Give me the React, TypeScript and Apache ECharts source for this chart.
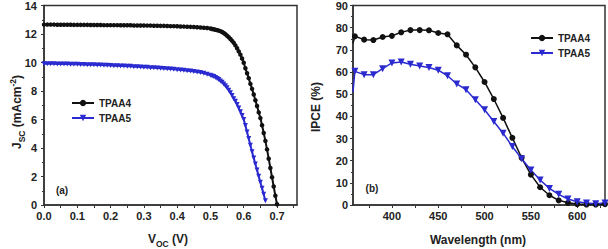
import React, { useEffect, useRef } from "react";
import * as echarts from "echarts";

// ---------- Data: J–V curves (panel a) ----------
const voltage = [
  0, 0.01, 0.02, 0.03, 0.04, 0.05, 0.06, 0.07, 0.08, 0.09,
  0.10, 0.11, 0.12, 0.13, 0.14, 0.15, 0.16, 0.17, 0.18, 0.19,
  0.20, 0.21, 0.22, 0.23, 0.24, 0.25, 0.26, 0.27, 0.28, 0.29,
  0.30, 0.31, 0.32, 0.33, 0.34, 0.35, 0.36, 0.37, 0.38, 0.39,
  0.40, 0.41, 0.42, 0.43, 0.44, 0.45, 0.46, 0.47, 0.48, 0.49,
  0.50,
  0.505, 0.51, 0.515, 0.52, 0.525, 0.53, 0.535, 0.54, 0.545, 0.55,
  0.555, 0.56, 0.565, 0.57, 0.575, 0.58, 0.585, 0.59, 0.595, 0.60,
  0.605, 0.61, 0.615, 0.62, 0.625, 0.63, 0.635, 0.64, 0.645, 0.65,
  0.655, 0.66, 0.665, 0.67, 0.675, 0.68, 0.685, 0.69, 0.695, 0.70,
];

const jscTPAA4 = [
  12.66, 12.66, 12.66, 12.66, 12.65, 12.65, 12.65, 12.65, 12.65, 12.64,
  12.64, 12.64, 12.64, 12.64, 12.63, 12.63, 12.63, 12.63, 12.62, 12.62,
  12.62, 12.62, 12.62, 12.61, 12.61, 12.61, 12.61, 12.60, 12.60, 12.60,
  12.60, 12.59, 12.59, 12.58, 12.58, 12.57, 12.57, 12.56, 12.55, 12.55,
  12.54, 12.53, 12.52, 12.51, 12.50, 12.49, 12.47, 12.46, 12.44, 12.42,
  12.39,
  12.35, 12.33, 12.30, 12.27, 12.24, 12.20, 12.14, 12.07, 11.98, 11.88,
  11.77, 11.65, 11.52, 11.38, 11.20, 11.00, 10.78, 10.55, 10.28, 9.98,
  9.60, 9.25, 8.90, 8.50, 8.15, 7.75, 7.35, 6.95, 6.50, 6.10,
  5.60, 5.05, 4.50, 3.90, 3.25, 2.60, 1.95, 1.30, 0.65, 0.05,
];

const jscTPAA5 = [
  9.92, 9.92, 9.91, 9.91, 9.90, 9.90, 9.89, 9.89, 9.88, 9.88,
  9.87, 9.86, 9.86, 9.85, 9.84, 9.84, 9.83, 9.82, 9.81, 9.80,
  9.79, 9.78, 9.77, 9.76, 9.75, 9.74, 9.73, 9.71, 9.70, 9.68,
  9.67, 9.66, 9.64, 9.63, 9.61, 9.60, 9.58, 9.56, 9.54, 9.52,
  9.50, 9.47, 9.45, 9.42, 9.40, 9.37, 9.33, 9.29, 9.24, 9.18,
  9.11,
  9.06, 9.01, 8.95, 8.88, 8.80, 8.71, 8.61, 8.49, 8.36, 8.22,
  8.06, 7.88, 7.68, 7.46, 7.28, 7.05, 6.80, 6.55, 6.28, 6.00,
  5.58, 5.12, 4.66, 4.20, 3.74, 3.30, 2.88, 2.45, 2.02, 1.60,
  1.18, 0.75, 0.30,
];

const jvXLabels = [0, 0.1, 0.2, 0.3, 0.4, 0.5, 0.6, 0.7];
const jvXTicks = [0, 0.05, 0.1, 0.15, 0.2, 0.25, 0.3, 0.35, 0.4, 0.45, 0.5, 0.55, 0.6, 0.65, 0.7, 0.75];

// ---------- Data: IPCE spectra (panel b) ----------
const wavelength = [
  358, 360, 370, 380, 390, 400, 410, 420, 430, 440, 450, 460, 470, 480, 490,
  500, 510, 520, 530, 540, 550, 560, 570, 580, 590, 600, 610, 620, 630,
];
const ipceTPAA4 = [
  73, 76.1, 74.6, 74.4, 75.8, 76.3, 77.9, 78.9, 78.9, 78.8, 77.6, 77.0, 72.0, 67.8, 62.1,
  55.5, 47.8, 39.3, 30.3, 21.3, 13.7, 8.0, 4.4, 2.1, 1.0, 0.4, 0.2, 0.2, 0.4,
];
const ipceTPAA5 = [
  51, 60.3, 58.8, 58.8, 61.5, 64.1, 64.5, 63.5, 62.7, 62.0, 60.8, 58.3, 54.6, 52.0, 47.5,
  43.0, 37.7, 32.4, 26.4, 20.9, 15.8, 11.3, 7.5, 4.8, 2.7, 1.5, 0.9, 0.6, 0.9,
];
const ipceXLabels = [400, 450, 500, 550, 600];
const ipceXTicks = [375, 400, 425, 450, 475, 500, 525, 550, 575, 600, 625];

const seriesNames = ["TPAA4", "TPAA5"];

const BLACK = "#111111";
const BLUE = "#2a2ad0";
const AXIS = "#333333";
const FONT = "'Liberation Sans', Arial, sans-serif";

export default function App() {
  const ref = useRef<HTMLDivElement>(null);

  useEffect(() => {
    if (!ref.current) return;
    const chart = echarts.init(ref.current, undefined, { renderer: "svg" });

    const labelStyle = {
      color: "#222",
      fontWeight: "bold" as const,
      fontSize: 11,
      fontFamily: FONT,
    };
    const axisLine = { show: true, lineStyle: { color: AXIS, width: 1.5 } };

    const jvData = (vals: number[]) =>
      vals.map((j, i) => [voltage[i], j]);
    const ipceData = (vals: number[]) =>
      vals.map((y, i) =>
        i === 0 ? { value: [wavelength[i], y], symbol: "none" } : [wavelength[i], y]
      );

    const titleRich = {
      m: { fontSize: 12, fontWeight: "bold", fontFamily: FONT, fill: "#222", lineHeight: 18 },
      s: { fontSize: 8.5, fontWeight: "bold", fontFamily: FONT, fill: "#222", lineHeight: 18, verticalAlign: "bottom" },
      p: { fontSize: 8.5, fontWeight: "bold", fontFamily: FONT, fill: "#222", lineHeight: 18, verticalAlign: "top" },
    };

    const option: any = {
      animation: false,
      backgroundColor: "#ffffff",
      grid: [
        { left: 44, top: 5, width: 253, height: 200, show: true, borderColor: AXIS, borderWidth: 1.5 },
        { left: 353, top: 5, width: 252, height: 200, show: true, borderColor: AXIS, borderWidth: 1.5 },
      ],
      legend: [
        {
          data: seriesNames,
          orient: "vertical",
          left: 66,
          top: 93,
          itemWidth: 22,
          itemHeight: 8,
          itemGap: 5,
          textStyle: { fontSize: 10, fontWeight: "bold", fontFamily: FONT, color: "#222" },
        },
        {
          data: seriesNames,
          orient: "vertical",
          left: 525,
          top: 28,
          itemWidth: 22,
          itemHeight: 8,
          itemGap: 5,
          textStyle: { fontSize: 10, fontWeight: "bold", fontFamily: FONT, color: "#222" },
        },
      ],
      xAxis: [
        {
          type: "value",
          gridIndex: 0,
          min: 0,
          max: 0.76,
          axisLine,
          splitLine: { show: false },
          axisTick: { show: true, customValues: jvXTicks, length: 3, lineStyle: { color: AXIS } },
          axisLabel: {
            ...labelStyle,
            margin: 5,
            customValues: jvXLabels,
            formatter: (v: number) => v.toFixed(1),
          },
        },
        {
          type: "value",
          gridIndex: 1,
          min: 358,
          max: 630,
          axisLine,
          splitLine: { show: false },
          axisTick: { show: true, customValues: ipceXTicks, length: 3, lineStyle: { color: AXIS } },
          axisLabel: { ...labelStyle, margin: 5, customValues: ipceXLabels },
        },
      ],
      yAxis: [
        {
          type: "value",
          gridIndex: 0,
          min: 0,
          max: 14,
          interval: 2,
          axisLine,
          splitLine: { show: false },
          axisTick: { show: true, length: 3, lineStyle: { color: AXIS } },
          minorTick: { show: true, splitNumber: 2, length: 2, lineStyle: { color: AXIS } },
          axisLabel: { ...labelStyle, margin: 7 },
        },
        {
          type: "value",
          gridIndex: 1,
          min: 0,
          max: 90,
          interval: 10,
          axisLine,
          splitLine: { show: false },
          axisTick: { show: true, length: 3, lineStyle: { color: AXIS } },
          minorTick: { show: true, splitNumber: 2, length: 2, lineStyle: { color: AXIS } },
          axisLabel: { ...labelStyle, margin: 5 },
        },
      ],
      series: [
        {
          name: "TPAA4",
          type: "line",
          xAxisIndex: 0,
          yAxisIndex: 0,
          data: jvData(jscTPAA4),
          color: BLACK,
          symbol: "circle",
          symbolSize: 4.5,
          lineStyle: { width: 2, color: BLACK },
          itemStyle: { color: BLACK },
        },
        {
          name: "TPAA5",
          type: "line",
          xAxisIndex: 0,
          yAxisIndex: 0,
          data: jvData(jscTPAA5),
          color: BLUE,
          symbol: "triangle",
          symbolRotate: 180,
          symbolSize: 5,
          lineStyle: { width: 2, color: BLUE },
          itemStyle: { color: BLUE },
        },
        {
          name: "TPAA4",
          type: "line",
          xAxisIndex: 1,
          yAxisIndex: 1,
          data: ipceData(ipceTPAA4),
          color: BLACK,
          symbol: "circle",
          symbolSize: 6,
          lineStyle: { width: 1.5, color: BLACK },
          itemStyle: { color: BLACK },
        },
        {
          name: "TPAA5",
          type: "line",
          xAxisIndex: 1,
          yAxisIndex: 1,
          data: ipceData(ipceTPAA5),
          color: BLUE,
          symbol: "triangle",
          symbolRotate: 180,
          symbolSize: 7,
          lineStyle: { width: 1.5, color: BLUE },
          itemStyle: { color: BLUE },
        },
      ],
      graphic: [
        {
          type: "text",
          x: 17,
          y: 112,
          rotation: Math.PI / 2,
          style: {
            text: "{m|J}{s|SC}{m| (mAcm}{p|-2}{m|)}",
            rich: titleRich,
            align: "center",
            verticalAlign: "middle",
          },
        },
        {
          type: "text",
          x: 168,
          y: 239,
          style: {
            text: "{m|V}{s|OC}{m| (V)}",
            rich: titleRich,
            align: "center",
            verticalAlign: "middle",
          },
        },
        {
          type: "text",
          x: 316,
          y: 107,
          rotation: Math.PI / 2,
          style: {
            text: "IPCE (%)",
            font: `bold 12px ${FONT}`,
            fill: "#222",
            align: "center",
            verticalAlign: "middle",
          },
        },
        {
          type: "text",
          x: 478,
          y: 240,
          style: {
            text: "Wavelength (nm)",
            font: `bold 12px ${FONT}`,
            fill: "#222",
            align: "center",
            verticalAlign: "middle",
          },
        },
        {
          type: "text",
          x: 62,
          y: 190,
          style: {
            text: "(a)",
            font: `bold 10px ${FONT}`,
            fill: "#222",
            align: "center",
            verticalAlign: "middle",
          },
        },
        {
          type: "text",
          x: 372,
          y: 188,
          style: {
            text: "(b)",
            font: `bold 10px ${FONT}`,
            fill: "#222",
            align: "center",
            verticalAlign: "middle",
          },
        },
      ],
    };

    chart.setOption(option);
    return () => chart.dispose();
  }, []);

  return (
    <div
      ref={ref}
      style={{ position: "fixed", left: 0, top: 0, width: 608, height: 249, background: "#fff" }}
    />
  );
}
